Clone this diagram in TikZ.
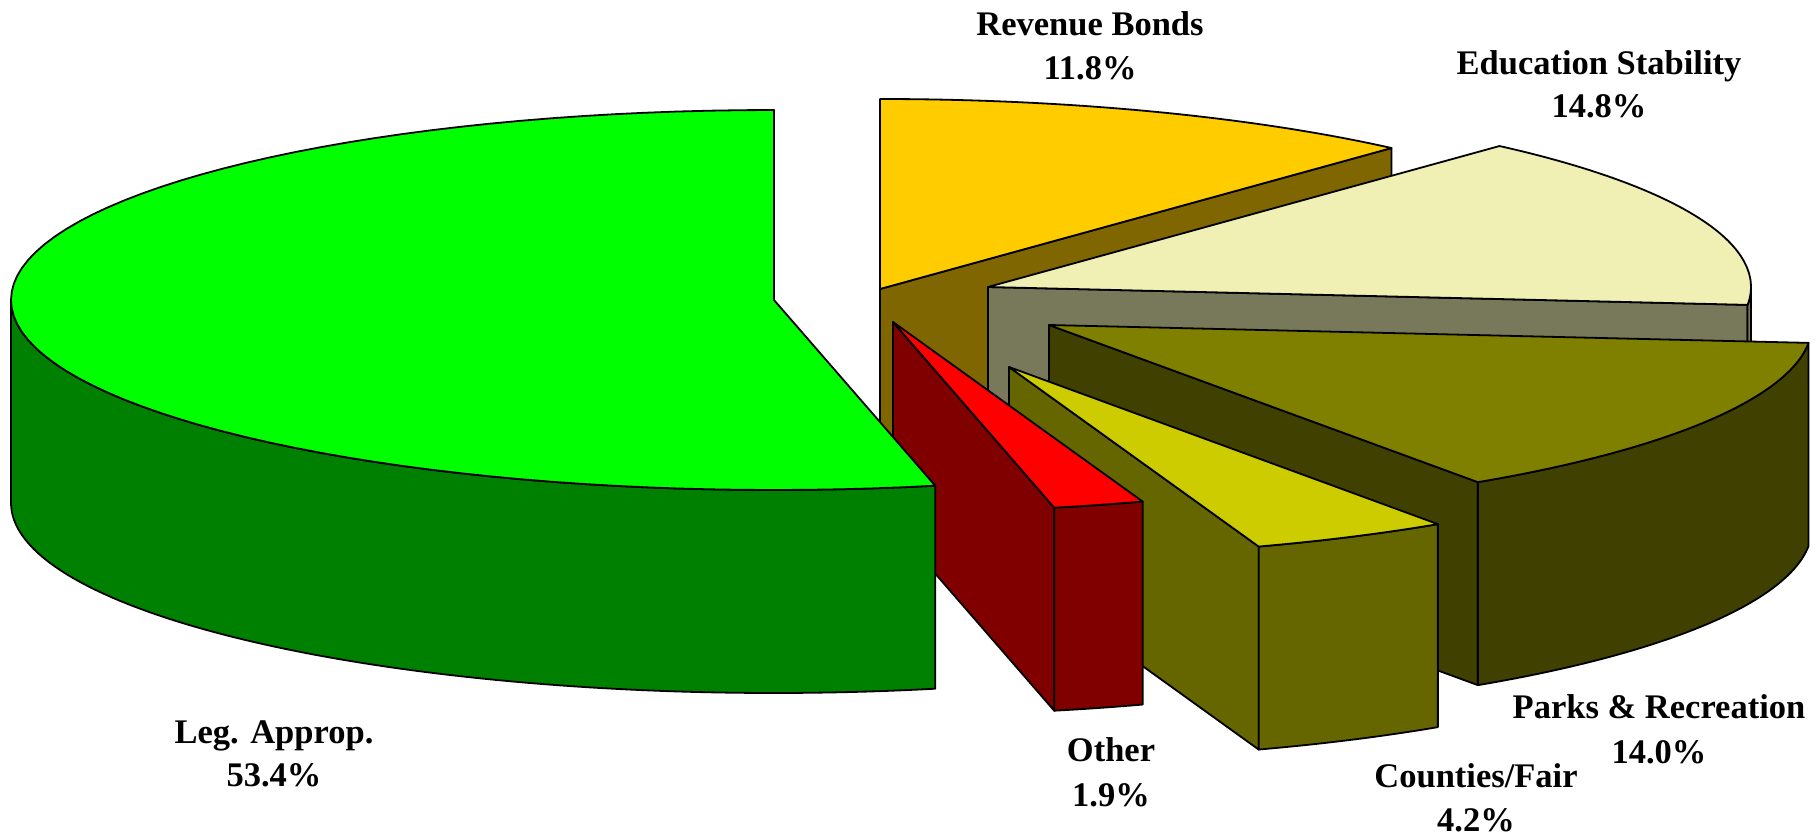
\documentclass[tikz,border=0pt]{standalone}
\usepackage{fontspec}
\setmainfont{Liberation Serif}
\definecolor{gTop}{HTML}{00FF00}
\definecolor{gSide}{HTML}{008000}
\definecolor{rTop}{HTML}{FF0000}
\definecolor{rSide}{HTML}{800000}
\definecolor{cTop}{HTML}{CCCC00}
\definecolor{cSide}{HTML}{666600}
\definecolor{pTop}{HTML}{808000}
\definecolor{pSide}{HTML}{404000}
\definecolor{eTop}{HTML}{F0F0B4}
\definecolor{eSide}{HTML}{78785A}
\definecolor{bTop}{HTML}{FFCC00}
\definecolor{bSide}{HTML}{806600}
\tikzset{
  slice/.style={draw=black, line width=1.8pt, line join=round},
  lbl/.style={font=\bfseries\fontsize{34.5}{40}\selectfont, anchor=base, inner sep=0pt}
}
% top sector: colour, cx, cy, start, end (angles measured with y pointing down)
\newcommand{\pieTop}[5]{%
  \filldraw[slice, fill=#1] (#2,#3) -- plot[domain=#4:#5, samples=80] ({#2+763*cos(\x)},{#3+190*sin(\x)}) -- cycle;}
% outer curved side
\newcommand{\pieRim}[5]{%
  \filldraw[slice, fill=#1] plot[domain=#4:#5, samples=80] ({#2+763*cos(\x)},{#3+190*sin(\x)}) -- plot[domain=#5:#4, samples=80] ({#2+763*cos(\x)},{#3+203+190*sin(\x)}) -- cycle;}
% radial side face
\newcommand{\pieFace}[4]{%
  \filldraw[slice, fill=#1] (#2,#3) -- ({#2+763*cos(#4)},{#3+190*sin(#4)}) -- ({#2+763*cos(#4)},{#3+203+190*sin(#4)}) -- ({#2},{#3+203}) -- cycle;}
\begin{document}
\begin{tikzpicture}[x=1pt, y=-1pt]
\useasboundingbox (0,0) rectangle (1816,835);
% Revenue Bonds
\pieFace{bSide}{880}{289}{-47.9}
\pieTop{bTop}{880}{289}{-90}{-47.9}
% Education Stability
\pieFace{eSide}{988}{287}{5.4}
\pieRim{eSide}{988}{287}{0}{5.4}
\pieTop{eTop}{988}{287}{-47.9}{5.4}
% Parks & Recreation
\pieFace{pSide}{1049}{325}{55.8}
\pieRim{pSide}{1049}{325}{5.4}{55.8}
\pieTop{pTop}{1049}{325}{5.4}{55.8}
% Counties/Fair
\pieFace{cSide}{1009}{367}{70.9}
\pieRim{cSide}{1009}{367}{55.8}{70.9}
\pieTop{cTop}{1009}{367}{55.8}{70.9}
% Other
\pieFace{rSide}{893}{322}{77.8}
\pieRim{rSide}{893}{322}{70.9}{77.8}
\pieTop{rTop}{893}{322}{70.9}{77.8}
% Leg. Approp.
\pieRim{gSide}{774}{300}{77.8}{180}
\pieTop{gTop}{774}{300}{77.8}{270}
% labels
\node[lbl] (revA) at (1090,35) {Revenue Bonds};
\node[lbl] (revB) at (1090,79) {11.8\%};
\node[lbl] (eduA) at (1599,74) {Education Stability};
\node[lbl] (eduB) at (1599,117) {14.8\%};
\node[lbl] (parA) at (1659,718) {Parks \& Recreation};
\node[lbl] (parB) at (1659,763) {14.0\%};
\node[lbl] (couA) at (1476,787) {Counties/Fair};
\node[lbl] (couB) at (1476,831) {4.2\%};
\node[lbl] (othA) at (1111,761) {Other};
\node[lbl] (othB) at (1111,806) {1.9\%};
\node[lbl] (legA) at (274,743) {Leg. Approp.};
\node[lbl] (legB) at (274,786) {53.4\%};
\end{tikzpicture}
\end{document}
